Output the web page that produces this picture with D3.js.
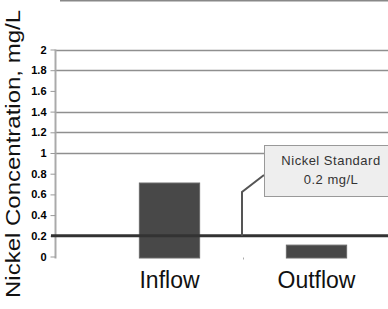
<!DOCTYPE html>
<html>
<head>
<meta charset="utf-8">
<script src="https://cdn.jsdelivr.net/npm/d3@7"></script>
<style>
  body { margin: 0; background: #fff; }
  svg { display: block; font-family: Arial, "Liberation Sans", sans-serif; }
</style>
</head>
<body>
<svg id="chart"></svg>
<script>
// chart data
const categories = ['Inflow', 'Outflow'];
const nickel = [0.71, 0.11];
const yTicks = [0, 0.2, 0.4, 0.6, 0.8, 1, 1.2, 1.4, 1.6, 1.8, 2];
const gridTicks = [1, 1.2, 1.4, 1.8, 2];
const standard = 0.2;
const standardLabel = ['Nickel Standard', '0.2 mg/L'];

const [w, h] = [388, 309];
const svg = d3.select('#chart').attr('width', w).attr('height', h);

const y = d3.scaleLinear().domain([0, 2]).range([256.5, 49.5]);
const x = d3.scaleBand().domain(categories).range([96, 390])
  .paddingInner(0.59).paddingOuter(0.295);
const axisX = 55.5;

// top border
svg.append('line').attr('x1', 60).attr('x2', w).attr('y1', 0.5).attr('y2', 0.5)
  .attr('stroke', '#888').attr('stroke-width', 2);

// gridlines
svg.append('g').selectAll('line').data(gridTicks).enter().append('line')
  .attr('x1', axisX).attr('x2', w)
  .attr('y1', d => Math.round(y(d)) + 0.5).attr('y2', d => Math.round(y(d)) + 0.5)
  .attr('stroke', '#8f8f8f').attr('stroke-width', 1.5);

// y axis
const yAxis = d3.axisLeft(y).tickValues(yTicks).tickSize(5).tickPadding(4)
  .tickFormat(d => d3.format('~g')(d));
const gy = svg.append('g').attr('transform', `translate(${axisX},0)`).call(yAxis);
gy.select('.domain').attr('stroke', '#aaa').attr('stroke-width', 2)
  .attr('d', `M0,${y(2)}V${y(0) + 2}`);
gy.selectAll('.tick line').attr('stroke', '#999');
gy.selectAll('.tick text').attr('font-size', 11).attr('font-weight', 'bold')
  .attr('fill', '#000').attr('font-family', '"Liberation Sans", Arial, sans-serif');

// x category ticks (small marks at band boundaries)
const step = x.step();
svg.append('g').selectAll('line').data(categories).enter().append('line')
  .attr('x1', d => x(d) + x.bandwidth() + step * 0.295 + 0.5)
  .attr('x2', d => x(d) + x.bandwidth() + step * 0.295 + 0.5)
  .attr('y1', y(0) + 1).attr('y2', y(0) + 3)
  .attr('stroke', '#aaa');

// bars
svg.append('g').selectAll('rect').data(categories).enter().append('rect')
  .attr('x', d => x(d))
  .attr('y', (d, i) => y(nickel[i]))
  .attr('width', x.bandwidth())
  .attr('height', (d, i) => y(0) + 1.5 - y(nickel[i]))
  .attr('fill', '#484848').attr('stroke', '#6a6a6a').attr('stroke-width', 1);

// category labels
svg.append('g').selectAll('text').data(categories).enter().append('text')
  .attr('x', d => x(d) + x.bandwidth() / 2)
  .attr('y', 288)
  .attr('text-anchor', 'middle').attr('font-size', 23).attr('fill', '#111')
  .text(d => d);

// standard line
svg.append('line').attr('x1', 51).attr('x2', w)
  .attr('y1', y(standard)).attr('y2', y(standard))
  .attr('stroke', '#333').attr('stroke-width', 3);

// callout
const leaderX = 242;
svg.append('path')
  .attr('d', `M264,175L${leaderX},192V${y(standard)}`)
  .attr('fill', 'none').attr('stroke', '#555').attr('stroke-width', 2);
svg.append('rect').attr('x', 264.5).attr('y', 145.5).attr('width', 130).attr('height', 51)
  .attr('fill', '#eeeeee').attr('stroke', '#999');
svg.append('g').selectAll('text').data(standardLabel).enter().append('text')
  .attr('x', 331).attr('y', (d, i) => 165 + i * 19)
  .attr('text-anchor', 'middle').attr('font-size', 13).attr('fill', '#333')
  .attr('letter-spacing', 0.5)
  .text(d => d);

// y title
svg.append('text')
  .attr('transform', 'translate(20,154) rotate(-90)')
  .attr('text-anchor', 'middle').attr('font-size', 20).attr('fill', '#111')
  .attr('textLength', 288).attr('lengthAdjust', 'spacingAndGlyphs')
  .text('Nickel Concentration, mg/L');
</script>
</body>
</html>
